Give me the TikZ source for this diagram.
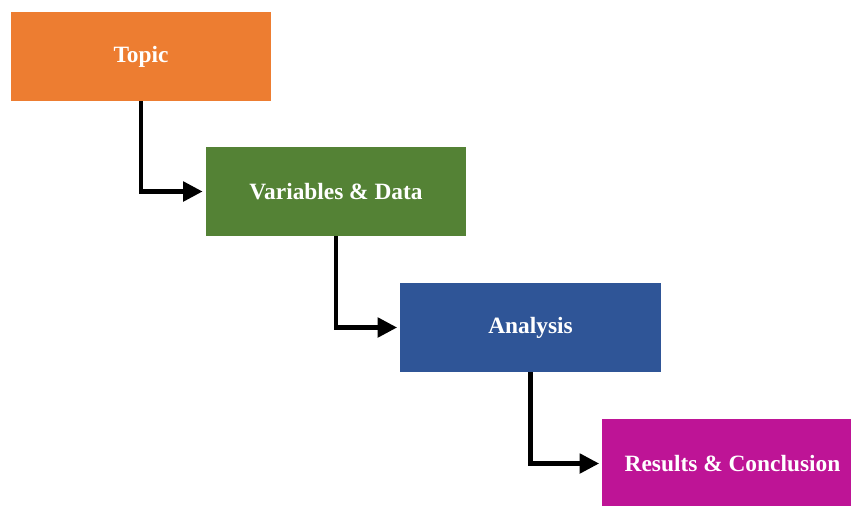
\documentclass[tikz,border=0pt]{standalone}
\usepackage{fontspec}
\setmainfont{Liberation Serif}
\usetikzlibrary{arrows.meta}

\definecolor{topicorange}{HTML}{ED7D31}
\definecolor{datagreen}{HTML}{548235}
\definecolor{analysisblue}{HTML}{2F5597}
\definecolor{resultmagenta}{HTML}{BE1496}

\begin{document}
\begin{tikzpicture}[x=0.02cm,y=-0.02cm]

        \clip (0,0) rectangle (851,505);

        \begin{scope}[every node/.style={rectangle,minimum width=5.22cm,minimum height=1.78cm,
            inner sep=0pt,text=white,font=\bfseries\fontsize{13.3}{16}\selectfont}]
          \node[fill=topicorange]   (1)  at (141,56.5)   {Topic};
          \node[fill=datagreen]     (2)  at (336,191.5)  {Variables \& Data};
          \node[fill=analysisblue]  (3)  at (530.5,327.5) {Analysis};
          \node[fill=resultmagenta] (4)  at (732.5,463.5) {Results \& Conclusion};
        \end{scope}

        \begin{scope}[every edge/.style={draw,line width=2.3pt,
            -{Triangle[length=11pt,width=11pt]},shorten >=1.5pt,
            to path={|- (\tikztotarget)}}]
          \path (1.south)  edge (2.west);
          \path (2.south)  edge (3.west);
          \path (3.south)  edge (4.west);
        \end{scope}

      \end{tikzpicture}
\end{document}
